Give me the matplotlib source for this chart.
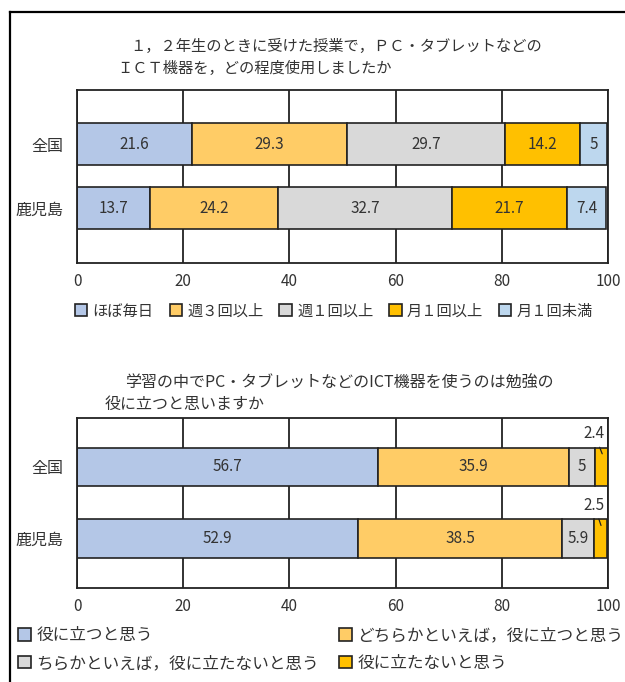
import matplotlib
matplotlib.use("Agg")
import matplotlib.pyplot as plt
from matplotlib.patches import Patch
from matplotlib.lines import Line2D

plt.rcParams['font.family'] = ['Noto Sans CJK JP', 'DejaVu Sans']

# ---- data ----
regions = ["全国", "鹿児島"]

q1_title = ["１，２年生のときに受けた授業で，ＰＣ・タブレットなどの",
            "ＩＣＴ機器を，どの程度使用しましたか"]
q1_labels = ["ほぼ毎日", "週３回以上", "週１回以上", "月１回以上", "月１回未満"]
q1_national = [21.6, 29.3, 29.7, 14.2, 5]
q1_kagoshima = [13.7, 24.2, 32.7, 21.7, 7.4]

q2_title = ["学習の中でPC・タブレットなどのICT機器を使うのは勉強の",
            "役に立つと思いますか"]
q2_labels = ["役に立つと思う", "どちらかといえば，役に立つと思う",
             "ちらかといえば，役に立たないと思う", "役に立たないと思う"]
q2_national = [56.7, 35.9, 5, 2.4]
q2_kagoshima = [52.9, 38.5, 5.9, 2.5]

xticks = [0, 20, 40, 60, 80, 100]

q1_colors = ["#B4C7E7", "#FFCC66", "#D9D9D9", "#FFC000", "#BDD7EE"]
q2_colors = ["#B4C7E7", "#FFCC66", "#D9D9D9", "#FFC000"]

W, H = 625, 682
fig = plt.figure(figsize=(W / 100, H / 100), dpi=100)

def fx(px):
    return px / W

def fy(py):
    return 1 - py / H

# outer frame (left and top lines)
fig.add_artist(Line2D([fx(10), fx(10)], [fy(12), 0], color="black", lw=1.6,
                      transform=fig.transFigure))
fig.add_artist(Line2D([fx(10), 1], [fy(12), fy(12)], color="black", lw=1.6,
                      transform=fig.transFigure))

TXT = "#333333"

def draw_chart(ax, series, colors, bar_h, ylim, small_label_idx=None):
    ax.set_xlim(0, 100)
    ax.set_ylim(*ylim)
    for x in xticks:
        ax.axvline(x, color="#222222", lw=1.3, zorder=0)
    for i, vals in enumerate(series):
        left = 0
        for j, v in enumerate(vals):
            ax.barh(i, v, left=left, height=bar_h, color=colors[j],
                    edgecolor="#222222", linewidth=1.2, zorder=2)
            if small_label_idx is not None and j == small_label_idx:
                ax.annotate(f"{v:g}", xy=(left + v / 2 + 0.3, i - bar_h / 2 + 0.12),
                            xytext=(97.4, i - bar_h / 2 - 0.2),
                            ha="center", va="center", fontsize=11, color=TXT,
                            arrowprops=dict(arrowstyle="-", color="#222222", lw=0.9),
                            zorder=4)
            else:
                ax.text(left + v / 2, i, f"{v:g}", ha="center", va="center",
                        fontsize=11, color=TXT, zorder=3)
            left += v
    ax.set_yticks(range(len(regions)))
    ax.set_yticklabels(regions, fontsize=11.5, color=TXT)
    ax.set_xticks(xticks)
    ax.set_xticklabels([str(x) for x in xticks], fontsize=11, color=TXT)
    ax.tick_params(length=0, pad=7)
    ax.tick_params(axis="y", pad=10)
    for s in ax.spines.values():
        s.set_color("#222222")
        s.set_linewidth(1.3)

# chart 1
ax1 = fig.add_axes([fx(77), fy(263), fx(608 - 77), (263 - 90) / H])
draw_chart(ax1, [q1_national, q1_kagoshima], q1_colors, 0.66, (1.86, -0.85))

fig.text(fx(130), fy(46), q1_title[0], fontsize=11, color=TXT, va="center", ha="left")
fig.text(fx(117), fy(68), q1_title[1], fontsize=11, color=TXT, va="center", ha="left")

h1 = [Patch(facecolor=c, edgecolor="#222222", linewidth=1.2) for c in q1_colors]
fig.legend(h1, q1_labels, loc="center", bbox_to_anchor=(fx(334), fy(311)), ncol=5,
           frameon=False, fontsize=11, handlelength=0.8, handleheight=0.8,
           handletextpad=0.35, columnspacing=1.05, labelcolor=TXT)

# chart 2
ax2 = fig.add_axes([fx(77), fy(588), fx(608 - 77), (588 - 418) / H])
draw_chart(ax2, [q2_national, q2_kagoshima], q2_colors, 0.53, (1.69, -0.68),
           small_label_idx=3)

fig.text(fx(125), fy(383), q2_title[0], fontsize=11.5, color=TXT, va="center", ha="left")
fig.text(fx(105), fy(404), q2_title[1], fontsize=11.5, color=TXT, va="center", ha="left")

h2 = [Patch(facecolor=c, edgecolor="#222222", linewidth=1.2) for c in q2_colors]
order = [0, 2, 1, 3]
fig.legend([h2[k] for k in order], [q2_labels[k] for k in order],
           loc="upper left", bbox_to_anchor=(fx(18), fy(627)), ncol=2,
           frameon=False, fontsize=12, handlelength=0.8, handleheight=0.8,
           handletextpad=0.3, columnspacing=1.2, labelspacing=0.65,
           borderpad=0, borderaxespad=0, labelcolor=TXT)

fig.savefig("out.png", dpi=100)
